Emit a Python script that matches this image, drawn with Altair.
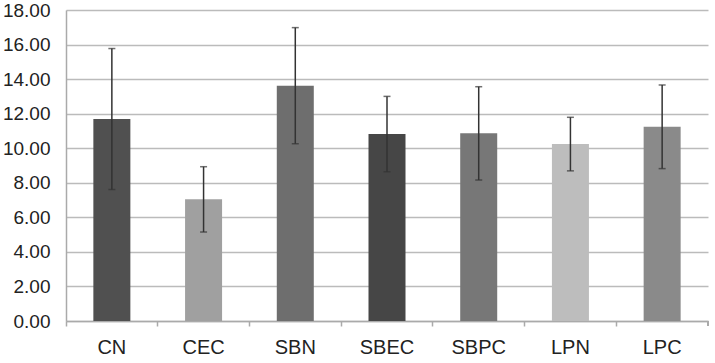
import altair as alt
import pandas as pd

groups = ["CN", "CEC", "SBN", "SBEC", "SBPC", "LPN", "LPC"]
means = [11.69, 7.04, 13.62, 10.82, 10.86, 10.24, 11.24]
sds = [4.08, 1.89, 3.36, 2.18, 2.70, 1.55, 2.42]
colors = ["#505050", "#a0a0a0", "#6e6e6e", "#464646", "#777777", "#bdbdbd", "#8a8a8a"]
y_ticks = [0, 2, 4, 6, 8, 10, 12, 14, 16, 18]

df = pd.DataFrame({"group": groups, "mean": means, "sd": sds})

FONT = "Liberation Sans"
W, H = 642, 311

x_enc = alt.X("group:N", sort=groups, title=None,
              scale=alt.Scale(paddingInner=0, paddingOuter=0),
              axis=alt.Axis(labelAngle=0, bandPosition=0, labelFont=FONT, labelFontSize=20,
                            labelColor="#222222", labelPadding=11, tickSize=5,
                            tickColor="#aaaaaa", domainColor="#aaaaaa", domainWidth=1.5,
                            tickWidth=1.5, grid=False, labelOverlap=False))

y_scale = alt.Scale(domain=[0, 18], nice=False)
y_axis = alt.Axis(values=y_ticks, tickCount=10, format=".2f", labelFont=FONT, labelFontSize=19,
                  labelColor="#222222", ticks=False, labelPadding=16,
                  labelOverlap=False, labelFlush=False,
                  gridColor="#bbbbbb", gridWidth=1.5, domainColor="#aaaaaa",
                  domainWidth=1.5)

base = alt.Chart(df)

bars = base.mark_bar(size=37).encode(
    x=x_enc,
    y=alt.Y("mean:Q", title=None, scale=y_scale, axis=y_axis),
    color=alt.Color("group:N", sort=groups, scale=alt.Scale(domain=groups, range=colors),
                    legend=None),
)

err = base.transform_calculate(
    lo="datum.mean - datum.sd", hi="datum.mean + datum.sd"
)

rules = err.mark_rule(color="#333333", strokeWidth=1.5).encode(
    x=x_enc, y=alt.Y("lo:Q", title=None, scale=y_scale, axis=y_axis), y2="hi:Q")
caps_hi = err.mark_tick(color="#333333", size=7, thickness=1.5).encode(
    x=x_enc, y=alt.Y("hi:Q", title=None, scale=y_scale, axis=y_axis))
caps_lo = err.mark_tick(color="#333333", size=7, thickness=1.5).encode(
    x=x_enc, y=alt.Y("lo:Q", title=None, scale=y_scale, axis=y_axis))

end_tick = alt.Chart(df).mark_rule(color="#aaaaaa", strokeWidth=1.5).encode(
    x=alt.value(W), y=alt.value(H), y2=alt.value(H + 5))

chart = alt.layer(bars, rules, caps_hi, caps_lo, end_tick).properties(
    width=W, height=H,
    autosize=alt.AutoSizeParams(type="none"),
    padding={"left": 66, "top": 10, "right": 7, "bottom": 42},
).configure_view(stroke=None).configure_axis(domain=True)

chart.save("out.html", embed_options={"renderer": "svg", "actions": False})
